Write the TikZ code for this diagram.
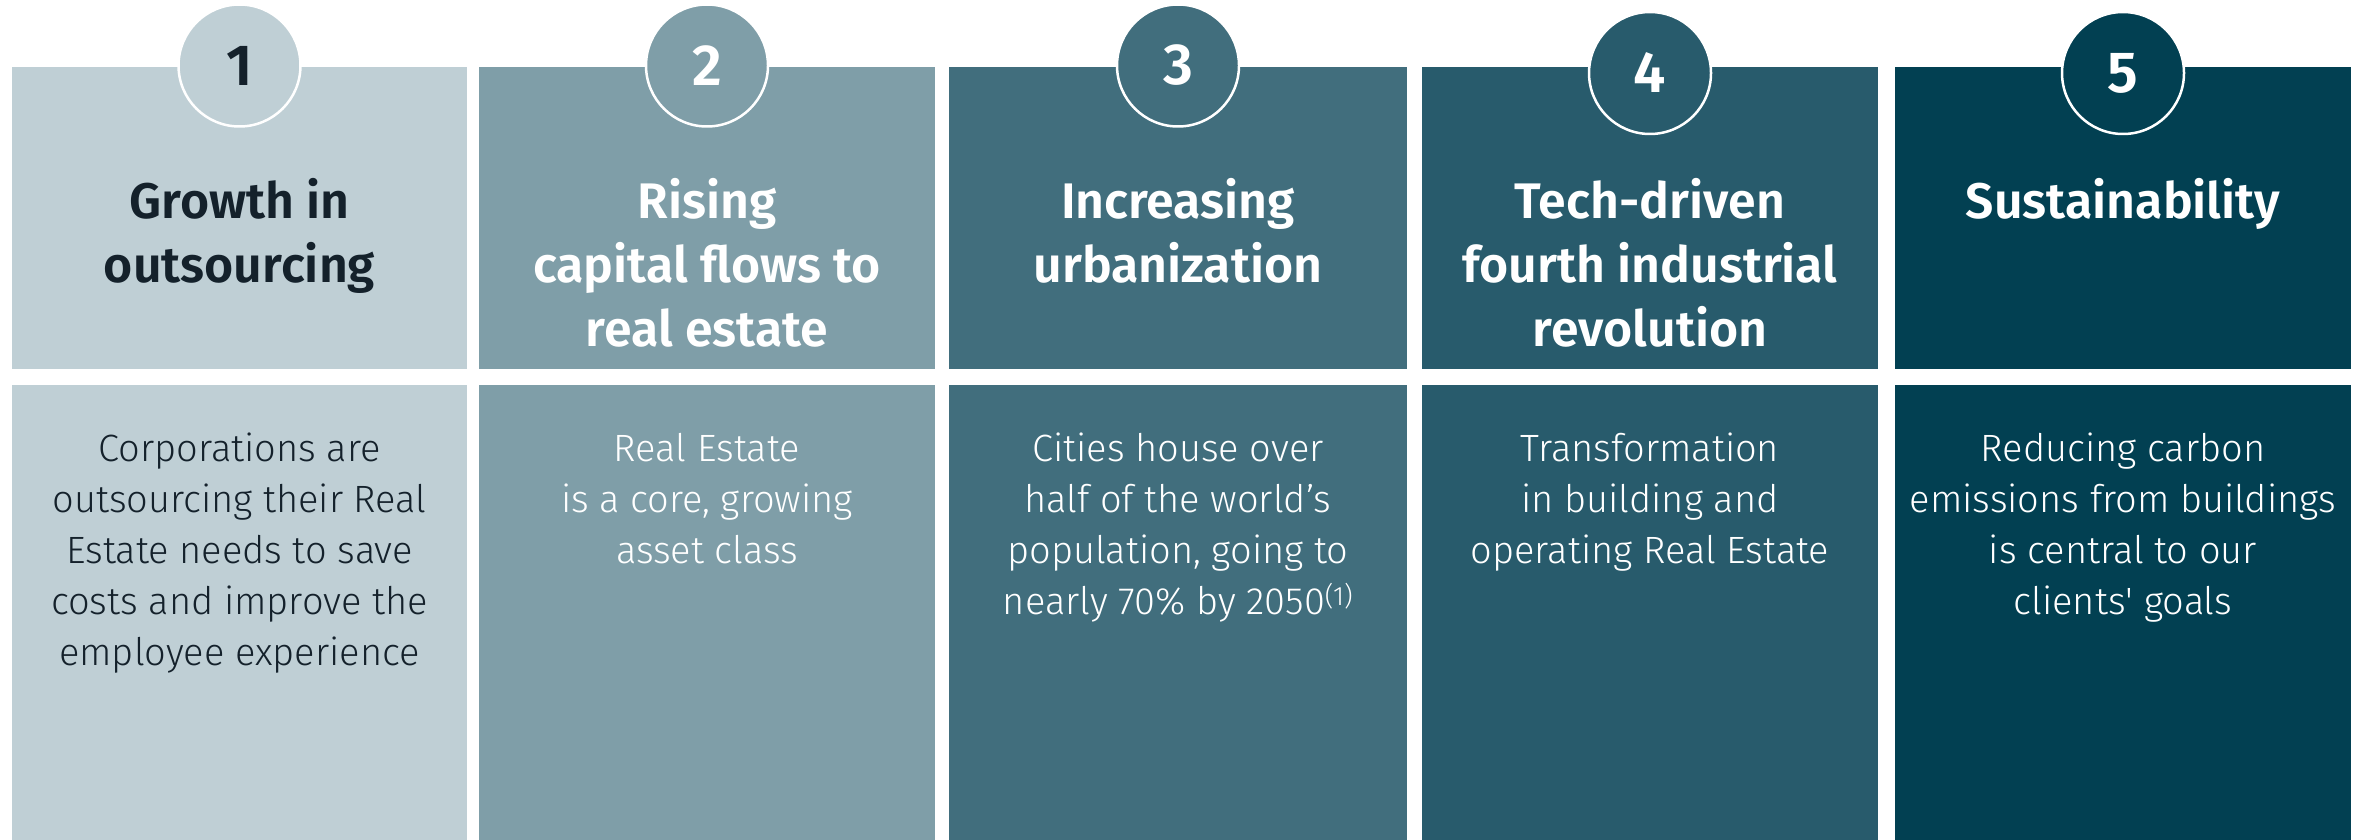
\documentclass[tikz,border=0pt]{standalone}
\usepackage{fontspec}
\newfontfamily\bodyfont{Fira Sans Light}
\newfontfamily\titlefont{Fira Sans SemiBold}
\definecolor{cA}{HTML}{BFCFD5}
\definecolor{cB}{HTML}{7F9EA8}
\definecolor{cC}{HTML}{416E7D}
\definecolor{cD}{HTML}{285B6C}
\definecolor{cE}{HTML}{024052}
\definecolor{ink}{HTML}{14212B}
\newcommand\hdstrut{\rule{0pt}{50pt}}
\newcommand\bdstrut{\rule{0pt}{40pt}}
\tikzset{
  numdisc/.style={circle, draw=white, line width=2.5pt, minimum size=122pt, inner sep=0pt,
    font=\titlefont\fontsize{58}{58}\selectfont},
  headtext/.style={anchor=north, align=center, inner sep=0pt,
    font=\titlefont\fontsize{50}{64}\selectfont},
  bodytext/.style={anchor=north, align=center, inner sep=0pt,
    font=\bodyfont\fontsize{38}{51}\selectfont},
}
\begin{document}
\begin{tikzpicture}[x=1pt,y=-1pt]
\useasboundingbox[fill=white] (0,0) rectangle (2362,840);
% columns: left, right, colour, text colour, circle y
\foreach \i/\l/\r/\c/\t/\cy in {1/12/467/cA/ink/65.5, 2/479/935/cB/white/65.5, 3/949/1407/cC/white/65.5, 4/1422/1878/cD/white/73, 5/1895/2351/cE/white/73}{
  \fill[\c] (\l,66.7) rectangle (\r,369) coordinate (top\i);
  \fill[\c] (\l,385) rectangle (\r,840) coordinate (bot\i);
  \node[numdisc, fill=\c, text=\t] (num\i) at ({(\l+\r)/2},\cy) {\i};
  \coordinate (hc\i) at ({(\l+\r)/2},{218.5-50});
  \coordinate (bc\i) at ({(\l+\r)/2},{461.5-40});
}
\node[headtext, text=ink] (h1) at (hc1) {\hdstrut Growth in\\outsourcing};
\node[headtext, text=white] (h2) at (hc2) {\hdstrut Rising\\capital flows to\\real estate};
\node[headtext, text=white] (h3) at (hc3) {\hdstrut Increasing\\urbanization};
\node[headtext, text=white] (h4) at (hc4) {\hdstrut Tech-driven\\fourth industrial\\revolution};
\node[headtext, text=white] (h5) at (hc5) {\hdstrut Sustainability};
\node[bodytext, text=ink] (b1) at (bc1) {\bdstrut Corporations are\\outsourcing their Real\\Estate needs to save\\costs and improve the\\employee experience};
\node[bodytext, text=white] (b2) at (bc2) {\bdstrut Real Estate\\is a core, growing\\asset class};
\node[bodytext, text=white] (b3) at (bc3) {\bdstrut Cities house over\\half of the world’s\\population, going to\\nearly 70\% by 2050\textsuperscript{(1)}};
\node[bodytext, text=white] (b4) at (bc4) {\bdstrut Transformation\\in building and\\operating Real Estate};
\node[bodytext, text=white] (b5) at (bc5) {\bdstrut Reducing carbon\\emissions from buildings\\is central to our\\clients\textquotesingle{} goals};
\end{tikzpicture}
\end{document}
